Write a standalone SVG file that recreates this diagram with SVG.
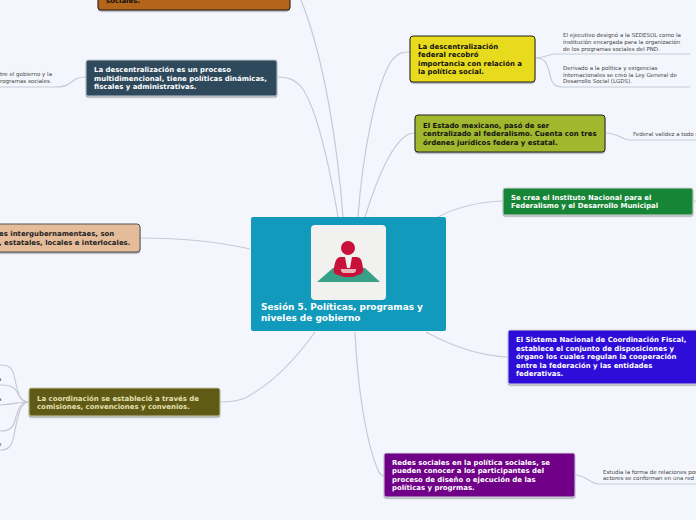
<svg xmlns="http://www.w3.org/2000/svg" width="696" height="520" viewBox="0 0 696 520">
<style>
text{font-family:"DejaVu Sans",Verdana,sans-serif}
.b{font-size:6.95px;font-weight:700}
.c{font-size:8.95px;font-weight:700;fill:#fff}
.s{font-size:5.5px;fill:#444}
.w{fill:#fff}.k{fill:#111}
#links path{fill:none;stroke:#c6cad4;stroke-width:1.2}
</style>
<defs>
<filter id="sh" x="-5%" y="-10%" width="110%" height="125%"><feDropShadow dx="0" dy="1.2" stdDeviation="0.7" flood-color="#555" flood-opacity=".55"/></filter>
</defs>
<rect width="696" height="520" fill="#f4f6fe"/>
<g id="links">
<path d="M343 217C338 150 325 60 301 0"/>
<path d="M338 217C330 170 318 110 302 88C295 79 287 77 277 77"/>
<path d="M358 217C362 160 375 85 392 60C398 53 402 52 410 52"/>
<path d="M365 217C375 185 390 145 407 135C410 133 412 133 415 133"/>
<path d="M438 217C455 208 475 202 503 201"/>
<path d="M426 332C450 345 480 356 508 357"/>
<path d="M355 332C357 380 365 440 378 470C380 475 382 476 385 476"/>
<path d="M315 332C295 360 270 385 245 398C235 402 228 402 220 402"/>
<path d="M250 249C215 241 180 238 140 238"/>
<path d="M86 77C78 77 75 79 70 83C67 86 62 87 55 87L0 87"/>
<path d="M535 58C545 58 548 54 555 54L690 54"/>
<path d="M535 58C545 58 547 62 550 75C552 85 556 87 562 87L690 87"/>
<path d="M606 133C618 133 622 140 630 140L696 140"/>
<path d="M694 201L696 201"/>
<path d="M575 475C586 475 590 484 599 484L696 484"/>
<path d="M29 402C20 402 18 395 14 375C12 367 8 365 0 365"/>
<path d="M29 402C22 402 20 398 17 392C14 386 8 385 0 385"/>
<path d="M29 402C20 402 15 404 0 405"/>
<path d="M29 402C20 402 18 410 15 420C13 429 8 431 0 431"/>
<path d="M29 402C20 402 18 415 14 435C12 447 8 450 0 450"/>
</g>
<g id="top-node"><rect x="98" y="-30" width="192" height="40" rx="3" fill="#b4651e" stroke="#2a1a08" filter="url(#sh)"/><text x="106" y="3" class="b k">sociales.</text></g>
<g id="descentralizacion"><rect x="86" y="60" width="191" height="36" rx="2" fill="#2d4a5c" stroke="#c5c9d2" filter="url(#sh)"/><text class="b w" x="94" y="72">La descentralización es un proceso</text><text class="b w" x="94" y="80.500">multidimencional, tiene políticas dinámicas,</text><text class="b w" x="94" y="89">fiscales y administrativas.</text></g>
<g id="desc-note"><text class="s" x="0" y="76">tre el gobierno y la</text><text class="s" x="0" y="83">rogramas sociales.</text></g>
<g id="federal"><rect x="410" y="36" width="125" height="46" rx="3" fill="#e8da1a" stroke="#222" filter="url(#sh)"/><text class="b k" x="418" y="49">La descentralización</text><text class="b k" x="418" y="57">federal  recobró</text><text class="b k" x="418" y="66">importancia con relación a</text><text class="b k" x="418" y="74">la política social.</text></g>
<g id="federal-n1"><text class="s" x="563" y="37">El ejecutivo designó a la SEDESOL como la</text><text class="s" x="563" y="44">institución  encargada para la organización</text><text class="s" x="563" y="50.500">de los programas sociales del PND.</text></g>
<g id="federal-n2"><text class="s" x="563" y="70">Derivado a la política y exigencias</text><text class="s" x="563" y="76.500">internacionales se creó la Ley General de</text><text class="s" x="563" y="83">Desarrollo Social (LGDS).</text></g>
<g id="estado"><rect x="415" y="115" width="190" height="37" rx="3" fill="#a0b72d" stroke="#222" filter="url(#sh)"/><text class="b k" x="423" y="128">El Estado mexicano, pasó de ser</text><text class="b k" x="423" y="136">centralizado al federalismo. Cuenta con tres</text><text class="b k" x="423" y="145">órdenes jurídicos federa y estatal.</text></g>
<g id="estado-n"><text class="s" x="633" y="136">Federal validez a todo el</text></g>
<g id="instituto"><rect x="503" y="188" width="190" height="27" rx="2" fill="#188534" stroke="#d2d5da" filter="url(#sh)"/><text class="b w" x="511" y="200">Se crea el Instituto Nacional para el</text><text class="b w" x="511" y="208">Federalismo y el Desarrollo Municipal</text></g>
<g id="sistema"><rect x="508" y="330" width="195" height="54" rx="2" fill="#2e0cd9" stroke="#d2d5da" filter="url(#sh)"/><text class="b w" x="516" y="342">El Sistema Nacional de Coordinación Fiscal,</text><text class="b w" x="516" y="351">establece el conjunto de disposiciones y</text><text class="b w" x="516" y="359">órgano los cuales regulan la cooperación</text><text class="b w" x="516" y="368">entre la federación y las entidades</text><text class="b w" x="516" y="376">federativas.</text></g>
<g id="redes"><rect x="384" y="453" width="191" height="44" rx="2" fill="#6f0488" stroke="#d2d5da" filter="url(#sh)"/><text class="b w" x="392" y="465">Redes sociales en la política sociales, se</text><text class="b w" x="392" y="473">pueden conocer a los participantes del</text><text class="b w" x="392" y="482">proceso de diseño o ejecución de las</text><text class="b w" x="392" y="490">políticas y progrmas.</text></g>
<g id="redes-n"><text class="s" x="603" y="474">Estudia  la forma de relaciones por</text><text class="s" x="603" y="480">actores se conforman en una red</text></g>
<g id="coordinacion"><rect x="29" y="388" width="191" height="28" rx="2" fill="#5f5a14" stroke="#c9c8a8" filter="url(#sh)"/><text class="b" fill="#e6e0b0" x="37" y="401">La coordinación se estableció a través de</text><text class="b" fill="#e6e0b0" x="37" y="409">comisiones, convenciones y convenios.</text></g>
<g id="coord-n"><text class="s" x="-2" y="362">:</text><text class="s" x="-2" y="381">a</text><text class="s" x="-2" y="401">a</text><text class="s" x="-2" y="446">o</text></g>
<g id="relaciones"><rect x="-60" y="224" width="200" height="28" rx="3" fill="#e5bc9a" stroke="#555" filter="url(#sh)"/><text class="b" fill="#222" x="-1" y="236">es intergubernamentaes, son</text><text class="b" fill="#222" x="-1" y="245">, estatales, locales e interlocales.</text></g>
<g id="center">
<rect x="251" y="217" width="195" height="114" rx="2" fill="#119abc"/>
<rect x="311" y="225" width="75" height="75" rx="4" fill="#f1f2ef"/>
<path d="M317 282L333 268H365L380 282Z" fill="#36a088"/>
<circle cx="348" cy="248" r="7" fill="#c8123a"/>
<path d="M340 257L345 257L347 268H350L352 257L357 257C362 258 362 262 363 268C364 272 362 274 358 275L353 277H344L338 275C334 274 333 272 334 268C335 262 336 258 340 257Z" fill="#c8123a"/>
<path d="M341 269H356V271L354 273H343L341 271Z" fill="#e6b6b8"/>
<text class="c" x="261" y="310">Sesión 5. Políticas, programas y</text>
<text class="c" x="261" y="321">niveles de gobierno</text>
</g>
</svg>
